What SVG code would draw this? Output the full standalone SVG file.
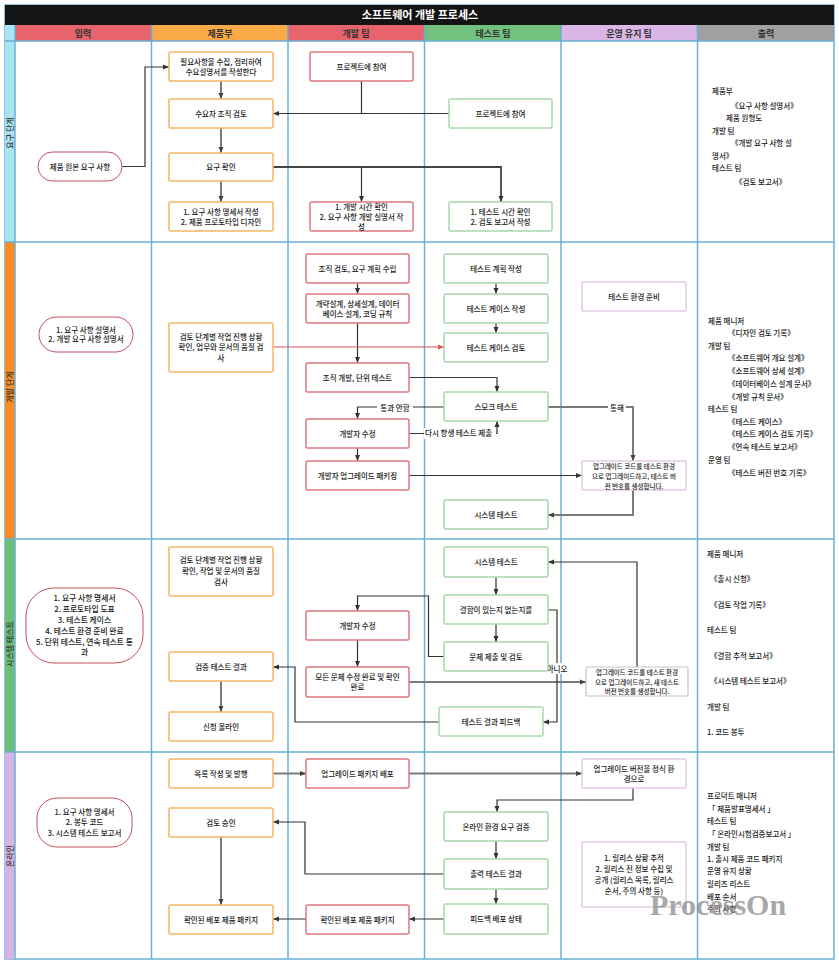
<svg xmlns="http://www.w3.org/2000/svg" width="839" height="964" viewBox="0 0 839 964">
<style>
text{font-family:"Noto Sans CJK KR","Noto Sans",sans-serif;fill:#1a1a1a;font-size:7.5px;font-weight:500}
.c{text-anchor:middle}
.h{font-size:9px;font-weight:bold;text-anchor:middle;fill:#333}
.sm{font-size:6.5px;text-anchor:middle}
.rl{font-size:8px;text-anchor:middle;fill:#333}
.grid{stroke:#6AAED6;stroke-width:1.5;fill:none}
.bo{fill:#fff;stroke:#F3B767;stroke-width:1.5}
.br{fill:#fff;stroke:#E0777F;stroke-width:1.5}
.bg{fill:#fff;stroke:#A8D7AA;stroke-width:1.5}
.bp{fill:#fff;stroke:#E3CCE3;stroke-width:1.5}
.bx{fill:#fff;stroke:#C4C4C4;stroke-width:1.2}
.pill{fill:#fff;stroke:#C5505E;stroke-width:1}
.k{fill:none;stroke:#333;stroke-width:1.2;marker-end:url(#ak)}
.kn{fill:none;stroke:#333;stroke-width:1.2}
.g{fill:none;stroke:#7A7A7A;stroke-width:2;marker-end:url(#ag)}
.r{fill:none;stroke:#E0505A;stroke-width:1.2;marker-end:url(#ar)}
.lbg{fill:#fff}
</style>
<defs>
<marker id="ak" markerUnits="userSpaceOnUse" markerWidth="6" markerHeight="6" viewBox="0 0 6 6" refX="6" refY="3" orient="auto"><path d="M0,0.5 L6,3 L0,5.5 z" fill="#333"/></marker>
<marker id="ag" markerUnits="userSpaceOnUse" markerWidth="6" markerHeight="6" viewBox="0 0 6 6" refX="6" refY="3" orient="auto"><path d="M0,0.5 L6,3 L0,5.5 z" fill="#444"/></marker>
<marker id="ar" markerUnits="userSpaceOnUse" markerWidth="6" markerHeight="6" viewBox="0 0 6 6" refX="6" refY="3" orient="auto"><path d="M0,0.5 L6,3 L0,5.5 z" fill="#E0505A"/></marker>
</defs>
<rect width="839" height="964" fill="#fff"/>
<g id="frame">
<rect x="5" y="5" width="829" height="954" fill="#fff" stroke="#6AAED6" stroke-width="1.5"/>
<rect x="5" y="5" width="829" height="20" fill="#141414"/>
<text x="420" y="19" style="font-size:11px;font-weight:bold;fill:#fff;text-anchor:middle">소프트웨어 개발 프로세스</text>
<rect x="15" y="25" width="136.5" height="16" fill="#E8646C"/>
<rect x="151.5" y="25" width="136.5" height="16" fill="#F9A945"/>
<rect x="288" y="25" width="136.5" height="16" fill="#E8646C"/>
<rect x="424.5" y="25" width="136.5" height="16" fill="#72C17E"/>
<rect x="561" y="25" width="136.5" height="16" fill="#D9B6E6"/>
<rect x="697.5" y="25" width="136.5" height="16" fill="#A0A0A0"/>
<text x="83" y="36.5" class="h">입력</text>
<text x="220" y="36.5" class="h">제품부</text>
<text x="356" y="36.5" class="h">개발 팀</text>
<text x="493" y="36.5" class="h">테스트 팀</text>
<text x="629" y="36.5" class="h">운영 유지 팀</text>
<text x="766" y="36.5" class="h">출력</text>
<rect x="5" y="25" width="10" height="217" fill="#A8E4F2"/>
<rect x="5" y="242" width="10" height="297" fill="#F78D22"/>
<rect x="5" y="539" width="10" height="213" fill="#6DBE77"/>
<rect x="5" y="752" width="10" height="207" fill="#D8B4E4"/>
<text class="rl" transform="translate(12.8,133) rotate(-90)">요구 단계</text>
<text class="rl" transform="translate(12.8,387) rotate(-90)">개발 단계</text>
<text class="rl" transform="translate(12.8,644) rotate(-90)">시스템 테스트</text>
<text class="rl" transform="translate(12.8,856) rotate(-90)">온라인</text>
<path class="grid" d="M15,25 V959 M151.5,25 V959 M288,25 V959 M424.5,25 V959 M561,25 V959 M697.5,25 V959 M5,41 H834 M5,242 H834 M5,539 H834 M5,752 H834"/>
</g>

<g id="connectors">
<path class="k" d="M122,166.5 H145 V67 H169"/>
<path class="g" d="M221,81 V99"/>
<path class="g" d="M221,128 V153"/>
<path class="g" d="M221,181 V202"/>
<path class="kn" d="M361.5,81 V113.5"/>
<path class="k" d="M449,113.5 H273"/>
<path class="k" d="M273,167 H501 V202" style="stroke:#444;stroke-width:1.8"/>
<path class="k" d="M361.5,167 V202"/>

<path class="k" d="M357.5,283 V294"/>
<path class="k" d="M357.5,323 V363"/>
<path class="k" d="M496,283 V294"/>
<path class="k" d="M496,323 V333"/>
<path class="r" d="M273,347 H444"/>
<path class="k" d="M409,377.5 H497 V392"/>
<path class="k" d="M444,407 H357.5 V419"/>
<path class="k" d="M409,433.5 H497 V421"/>
<path class="k" d="M357.5,448 V461"/>
<path class="k" d="M409,475.5 H582"/>
<path class="g" d="M548,407 H633 V461"/>
<path class="g" d="M633,490 V515 H548"/>

<path class="k" d="M496,577 V595"/>
<path class="k" d="M496,624 V642"/>
<path class="k" d="M444,656.5 H428.5 V596 H357.5 V611"/>
<path class="k" d="M357.5,640 V667"/>
<path class="g" d="M409,682 H586"/>
<path class="k" d="M637,667 V562 H548"/>
<path class="k" d="M548,610 H557 V722 H543"/>
<path class="k" d="M439,722 H295 V667 H273"/>
<path class="g" d="M221,681 V712"/>

<path class="g" d="M273,773.5 H306"/>
<path class="g" d="M409,773.5 H582"/>
<path class="k" d="M633,788 V800 H497 V812"/>
<path class="k" d="M496,841 V859"/>
<path class="k" d="M496,889 V904"/>
<path class="k" d="M444,874 H305 V822 H273"/>
<path class="k" d="M444,919 H409"/>
<path class="k" d="M306,919 H273"/>
<path class="g" d="M221,837 V905"/>

<rect class="lbg" x="377" y="402" width="36" height="11"/>
<text x="395" y="410.5" class="c">통과 안함</text>
<rect class="lbg" x="424" y="428" width="72" height="11"/>
<text x="425" y="436">다시 항생 테스트 제출</text>
<rect class="lbg" x="608" y="402" width="18" height="11"/>
<text x="617" y="410.5" class="c">통해</text>
<rect class="lbg" x="546" y="663" width="22" height="11"/>
<text x="557" y="671.5" class="c">아니오</text>
</g>

<g id="n-input1"><rect class="pill" x="38" y="152" width="84" height="29" rx="14.5"/><text x="80" y="169.5" class="c">제품 원본 요구 사항</text></g>
<g id="n-p1"><rect class="bo" x="169" y="52" width="104" height="29" rx="1.5"/><text x="221" y="64.5" class="c">필요사항을 수집, 정리하여</text><text x="221" y="75" class="c">수요설명서를 작성한다</text></g>
<g id="n-p2"><rect class="bo" x="169" y="99" width="104" height="29" rx="1.5"/><text x="221" y="116.5" class="c">수요자 조직 검토</text></g>
<g id="n-p3"><rect class="bo" x="169" y="153" width="104" height="28" rx="1.5"/><text x="221" y="170" class="c">요구 확인</text></g>
<g id="n-p4"><rect class="bo" x="169" y="202" width="104" height="29" rx="1.5"/><text x="221" y="214.5" class="c">1. 요구 사항 명세서 작성</text><text x="221" y="225" class="c">2. 제품 프로토타입 디자인</text></g>
<g id="n-d1"><rect class="br" x="310" y="52" width="103" height="29" rx="1.5"/><text x="361.5" y="69.5" class="c">프로젝트에 참여</text></g>
<g id="n-d2"><rect class="br" x="310" y="202" width="103" height="29" rx="1.5"/><text x="361.5" y="209.5" class="c">1. 개발 시간 확인</text><text x="361.5" y="219.5" class="c">2. 요구 사항 개발 실명서 작</text><text x="361.5" y="229.5" class="c">성</text></g>
<g id="n-t1"><rect class="bg" x="449" y="99" width="103" height="29" rx="1.5"/><text x="500.5" y="116.5" class="c">프로젝트에 참여</text></g>
<g id="n-t2"><rect class="bg" x="449" y="202" width="103" height="29" rx="1.5"/><text x="500.5" y="215" class="c">1. 테스트 시간 확인</text><text x="500.5" y="224.5" class="c">2. 검토 보고서 작성</text></g>
<g id="n-out1">
<text x="712" y="94">제품부</text>
<text x="731" y="109">《요구 사항 설명서》</text>
<text x="726" y="121">제품 원형도</text>
<text x="712" y="134">개발 팀</text>
<text x="731" y="146">《개발 요구 사항 설</text>
<text x="712" y="159">명서》</text>
<text x="712" y="171">테스트 팀</text>
<text x="735" y="185">《검토 보고서》</text>
</g>

<g id="n-input2"><rect class="pill" x="39" y="317" width="94" height="35" rx="17.5"/><text x="86" y="332.5" class="c">1. 요구 사항 설명서</text><text x="86" y="342" class="c">2. 개발 요구 사항 설명서</text></g>
<g id="n-p5"><rect class="bo" x="169" y="323" width="104" height="49" rx="1.5"/><text x="221" y="339.5" class="c">검토 단계별 작업 진행 상황</text><text x="221" y="350" class="c">확인, 업무와 문서의 품질 검</text><text x="221" y="361" class="c">사</text></g>
<g id="n-d3"><rect class="br" x="306" y="254" width="103" height="29" rx="1.5"/><text x="357.5" y="271.5" class="c">조직 검토, 요구 계획 수립</text></g>
<g id="n-d4"><rect class="br" x="306" y="294" width="103" height="29" rx="1.5"/><text x="357.5" y="307" class="c">개략설계, 상세설계, 데이터</text><text x="357.5" y="317" class="c">베이스 설계, 코딩 규칙</text></g>
<g id="n-d5"><rect class="br" x="306" y="363" width="103" height="29" rx="1.5"/><text x="357.5" y="380.5" class="c">조직 개발, 단위 테스트</text></g>
<g id="n-d6"><rect class="br" x="306" y="419" width="103" height="29" rx="1.5"/><text x="357.5" y="436.5" class="c">개발자 수정</text></g>
<g id="n-d7"><rect class="br" x="306" y="461" width="103" height="29" rx="1.5"/><text x="357.5" y="478.5" class="c">개발자 업그레이드 패키징</text></g>
<g id="n-t3"><rect class="bg" x="444" y="254" width="104" height="29" rx="1.5"/><text x="496" y="271.5" class="c">테스트 계획 작성</text></g>
<g id="n-t4"><rect class="bg" x="444" y="294" width="104" height="29" rx="1.5"/><text x="496" y="311.5" class="c">테스트 케이스 작성</text></g>
<g id="n-t5"><rect class="bg" x="444" y="333" width="104" height="29" rx="1.5"/><text x="496" y="350.5" class="c">테스트 케이스 검토</text></g>
<g id="n-t6"><rect class="bg" x="444" y="392" width="104" height="29" rx="1.5"/><text x="496" y="409.5" class="c">스모크 테스트</text></g>
<g id="n-t7"><rect class="bg" x="444" y="500" width="104" height="29" rx="1.5"/><text x="496" y="517.5" class="c">시스템 테스트</text></g>
<g id="n-o1"><rect class="bp" x="582" y="282" width="104" height="29" rx="1"/><text x="634" y="299.5" class="c">테스트 환경 준비</text></g>
<g id="n-o2"><rect class="bp" x="582" y="461" width="104" height="29" rx="1"/><text x="634" y="469" class="sm">업그레이드 코드를 테스트 환경</text><text x="634" y="478.5" class="sm">으로 업그레이드하고, 테스트 버</text><text x="634" y="488.5" class="sm">전 번호를 생성합니다.</text></g>
<g id="n-out2">
<text x="708" y="324">제품 매니저</text>
<text x="728" y="336">《디자인 검토 기록》</text>
<text x="708" y="349">개발 팀</text>
<text x="728" y="361">《소프트웨어 개요 설계》</text>
<text x="728" y="374">《소프트웨어 상세 설계》</text>
<text x="728" y="387">《데이터베이스 설계 문서》</text>
<text x="728" y="399.5">《개발 규칙 문서》</text>
<text x="708" y="412">테스트 팀</text>
<text x="728" y="425">《테스트 케이스》</text>
<text x="728" y="437">《테스트 케이스 검토 기록》</text>
<text x="728" y="450">《연속 테스트 보고서》</text>
<text x="708" y="463">운영 팀</text>
<text x="728" y="476">《테스트 버전 번호 기록》</text>
</g>

<g id="n-input3"><rect class="pill" x="26" y="588" width="117" height="75" rx="28"/>
<text x="84.5" y="600.5" class="c" style="font-size:7.8px">1. 요구 사항 명세서</text>
<text x="84.5" y="611.5" class="c" style="font-size:7.8px">2. 프로토타입 도표</text>
<text x="84.5" y="622.5" class="c" style="font-size:7.8px">3. 테스트 케이스</text>
<text x="84.5" y="633.5" class="c" style="font-size:7.8px">4. 테스트 환경 준비 완료</text>
<text x="84.5" y="644.5" class="c" style="font-size:7.8px">5. 단위 테스트, 연속 테스트 통</text>
<text x="84.5" y="655" class="c" style="font-size:7.8px">과</text></g>
<g id="n-p6"><rect class="bo" x="169" y="547" width="104" height="49" rx="1.5"/><text x="221" y="563" class="c">검토 단계별 작업 진행 상황</text><text x="221" y="574" class="c">확인, 작업 및 문서의 품질</text><text x="221" y="585" class="c">검사</text></g>
<g id="n-p7"><rect class="bo" x="169" y="652" width="104" height="29" rx="1.5"/><text x="221" y="669.5" class="c">검증 테스트 결과</text></g>
<g id="n-p8"><rect class="bo" x="169" y="712" width="104" height="29" rx="1.5"/><text x="221" y="729.5" class="c">신청 올라인</text></g>
<g id="n-d8"><rect class="br" x="306" y="611" width="103" height="29" rx="1.5"/><text x="357.5" y="628.5" class="c">개발자 수정</text></g>
<g id="n-d9"><rect class="br" x="306" y="667" width="103" height="30" rx="1.5"/><text x="357.5" y="679.5" class="c">모든 문제 수정 완료 및 확인</text><text x="357.5" y="689.5" class="c">완료</text></g>
<g id="n-t8"><rect class="bg" x="444" y="547" width="104" height="30" rx="1.5"/><text x="496" y="565" class="c">시스템 테스트</text></g>
<g id="n-t9"><rect class="bg" x="444" y="595" width="104" height="29" rx="1.5"/><text x="496" y="612.5" class="c">결함이 있는지 없는지를</text></g>
<g id="n-t10"><rect class="bg" x="444" y="642" width="104" height="29" rx="1.5"/><text x="496" y="659.5" class="c">문제 제출 및 검토</text></g>
<g id="n-t11"><rect class="bg" x="439" y="707" width="104" height="29" rx="1.5"/><text x="491" y="724.5" class="c">테스트 결과 피드백</text></g>
<g id="n-o3"><rect class="bx" x="586" y="667" width="102" height="29" rx="1"/><text x="637" y="674.5" class="sm">업그레이드 코드를 테스트 환경</text><text x="637" y="684.5" class="sm">으로 업그레이드하고, 새 테스트</text><text x="637" y="694" class="sm">버전 번호를 생성합니다.</text></g>
<g id="n-out3">
<text x="707" y="557">제품 매니저</text>
<text x="710" y="582">《출시 신청》</text>
<text x="710" y="608">《검토 작업 기록》</text>
<text x="707" y="633">테스트 팀</text>
<text x="710" y="659">《결함 추적 보고서》</text>
<text x="710" y="684">《시스템 테스트 보고서》</text>
<text x="707" y="710">개발 팀</text>
<text x="707" y="735">1. 코드 봉투</text>
</g>

<g id="n-input4"><rect class="pill" x="37" y="798" width="95" height="49" rx="20"/><text x="84.5" y="814.5" class="c">1. 요구 사항 명세서</text><text x="84.5" y="824.5" class="c">2. 봉투 코드</text><text x="84.5" y="835.5" class="c">3. 시스템 테스트 보고서</text></g>
<g id="n-p9"><rect class="bo" x="169" y="759" width="104" height="29" rx="1.5"/><text x="221" y="776.5" class="c">목록 작성 및 발행</text></g>
<g id="n-p10"><rect class="bo" x="169" y="808" width="104" height="29" rx="1.5"/><text x="221" y="825.5" class="c">검토 승인</text></g>
<g id="n-p11"><rect class="bo" x="169" y="905" width="104" height="29" rx="1.5"/><text x="221" y="922.5" class="c">확인된 배포 제품 패키지</text></g>
<g id="n-d10"><rect class="br" x="306" y="759" width="103" height="29" rx="1.5"/><text x="357.5" y="776.5" class="c">업그레이드 패키지 배포</text></g>
<g id="n-d11"><rect class="br" x="306" y="905" width="103" height="29" rx="1.5"/><text x="357.5" y="922.5" class="c">확인된 배포 제품 패키지</text></g>
<g id="n-t12"><rect class="bg" x="444" y="812" width="104" height="29" rx="1.5"/><text x="496" y="829.5" class="c">온라인 환경 요구 검증</text></g>
<g id="n-t13"><rect class="bg" x="444" y="859" width="104" height="30" rx="1.5"/><text x="496" y="877" class="c">출력 테스트 결과</text></g>
<g id="n-t14"><rect class="bg" x="444" y="904" width="104" height="30" rx="1.5"/><text x="496" y="922" class="c">피드백 배포 상태</text></g>
<g id="n-o4"><rect class="bp" x="582" y="759" width="104" height="29" rx="1"/><text x="634" y="772" class="c">업그레이드 버전을 정식 환</text><text x="634" y="782" class="c">경으로</text></g>
<g id="n-o5"><rect class="bp" x="582" y="842" width="104" height="65" rx="1"/><text x="634" y="861" class="c">1. 릴리스 상황 추적</text><text x="634" y="872" class="c">2. 릴리스 전 정보 수집 및</text><text x="634" y="883" class="c">공개 (릴리스 목록, 릴리스</text><text x="634" y="893.5" class="c">순서, 주의 사항 등)</text></g>
<g id="n-out4">
<text x="707" y="799">프로덕트 매니저</text>
<text x="708" y="812">「 제품발표명세서 」</text>
<text x="707" y="824">테스트 팀</text>
<text x="708" y="837">「 온라인시험검증보고서 」</text>
<text x="707" y="850">개발 팀</text>
<text x="707" y="862">1. 출시 제품 코드 패키지</text>
<text x="707" y="874">운영 유지 상황</text>
<text x="707" y="887">릴리즈 리스트</text>
<text x="707" y="900">배포 순서</text>
<text x="707" y="912">주의 사항</text>
</g>
<text x="650" y="915" style="font-family:'Liberation Serif',serif;font-size:30px;font-weight:bold;fill:#8C8C8C;opacity:0.75">ProcessOn</text>
</svg>
